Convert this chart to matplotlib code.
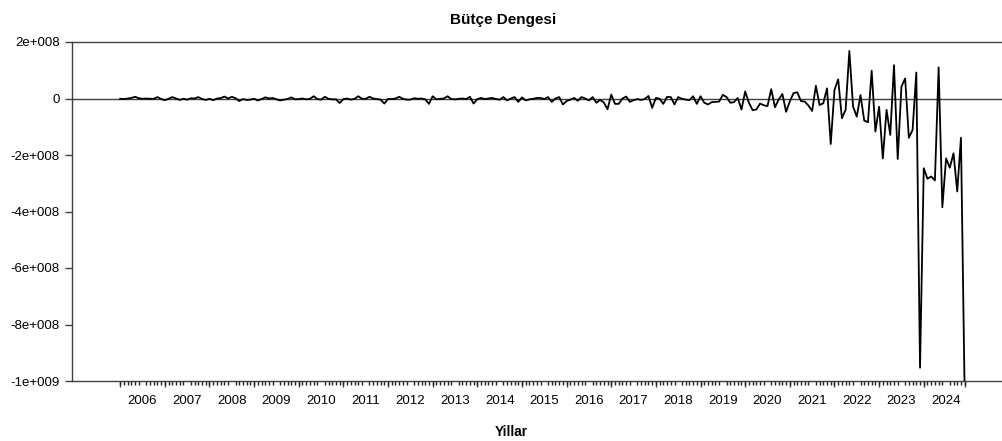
import matplotlib
matplotlib.use("Agg")
import matplotlib.pyplot as plt
import numpy as np
from matplotlib import font_manager

# ---- data (monthly budget balance, in millions) ----
years = list(range(2006, 2025))
bal_2006 = [-1, -2, 0, 2, 6, 1, -1, 0, -1, -1, 5, -2]
bal_2007 = [-6, -1, 5, 0, -5, -1, -4, 1, 0, 5, -2, -5]
bal_2008 = [-1, -6, 0, 1, 7, 0, 6, 1, -9, -2, -5, -4]
bal_2009 = [-1, -7, -2, 4, 0, 2, -3, -7, -4, -2, 4, -3]
bal_2010 = [-2, 0, -3, -1, 8, -2, -4, 6, -1, -3, -3, -16]
bal_2011 = [-2, 0, -4, -1, 8, -1, -1, 6, 0, -2, -4, -18]
bal_2012 = [-1, -2, 0, 6, -1, -4, -4, 1, -1, 0, -3, -19]
bal_2013 = [8, -3, -1, 0, 8, -2, -3, -1, 0, -2, 6, -18]
bal_2014 = [-2, 2, -2, 0, 2, -2, -4, 5, -7, 0, 5, -12]
bal_2015 = [4, -7, -3, -1, 2, 2, -2, 5, -12, 0, 5, -21]
bal_2016 = [-9, -4, 2, -8, 5, 0, -7, 5, -15, -5, -14, -38]
bal_2017 = [14, -19, -19, 0, 7, -12, -6, -2, -5, -2, 9, -33]
bal_2018 = [2, -1, -19, 6, 5, -21, 5, -1, -4, -6, 8, -19]
bal_2019 = [8, -15, -21, -13, -12, -11, 13, 5, -15, -13, 2, -39]
bal_2020 = [25, -15, -41, -39, -18, -24, -27, 33, -31, -4, 16, -47]
bal_2021 = [-10, 19, 22, -9, -11, -25, -44, 45, -23, -17, 36, -161]
bal_2022 = [30, 68, -70, -40, 168, -29, -64, 12, -78, -84, 98, -117]
bal_2023 = [-29, -212, -40, -129, 118, -214, 42, 71, -139, -111, 92, -953]
bal_2024 = [-247, -284, -276, -290, 110, -385, -212, -245, -194, -329, -139, -1050]

yticks = [2e8, 0, -2e8, -4e8, -6e8, -8e8, -1e9]
ytick_labels = ["2e+008", "0", "-2e+008", "-4e+008", "-6e+008", "-8e+008", "-1e+009"]
title = "Bütçe Dengesi"
xlabel = "Yillar"

series = [bal_2006, bal_2007, bal_2008, bal_2009, bal_2010, bal_2011, bal_2012,
          bal_2013, bal_2014, bal_2015, bal_2016, bal_2017, bal_2018, bal_2019,
          bal_2020, bal_2021, bal_2022, bal_2023, bal_2024]
values = np.concatenate([np.array(s, dtype=float) for s in series]) * 1e6
t = years[0] + np.arange(len(values)) / 12.0

# ---- fonts ----
names = {f.name for f in font_manager.fontManager.ttflist}
if "Liberation Sans Narrow" in names:
    fam = ["Liberation Sans Narrow", "DejaVu Sans"]
    tick_fs, title_fs, lab_fs = 11, 12, 11
else:
    fam = ["Liberation Sans", "DejaVu Sans"]
    tick_fs, title_fs, lab_fs = 9.5, 11, 9.8
plt.rcParams["font.family"] = fam

W, H = 1003, 441
fig = plt.figure(figsize=(W / 100, H / 100), dpi=100)
ax = fig.add_axes([72 / W, (H - 381) / H, (W - 72) / W + 0.01, (381 - 42) / H])

axc = "#404040"
ax.axhline(0, color=axc, lw=1.0, zorder=1)
ax.plot(t, values, color="black", lw=1.3, zorder=3)

ax.set_ylim(-1e9, 2e8)
ax.set_xlim(2004.92, 2026.0)

ax.set_yticks(yticks)
ax.set_yticklabels(ytick_labels, fontsize=tick_fs)
ax.tick_params(axis="y", direction="out", length=5, width=1.0, color=axc, pad=4)

# year labels at mid-year (no tick mark)
ax.set_xticks([y + 0.5 for y in years])
ax.set_xticklabels([str(y) for y in years], fontsize=tick_fs)
ax.tick_params(axis="x", which="major", length=0, pad=10)
# monthly minor ticks
months = years[0] + np.arange(len(values)) / 12.0
ax.set_xticks(months, minor=True)
ax.tick_params(axis="x", which="minor", direction="out", length=2.6, width=1.0, color="#222222")
# year-start ticks
sec = ax.secondary_xaxis(0)
sec.set_xticks(years + [years[-1] + 11 / 12])
sec.set_xticklabels([])
sec.tick_params(axis="x", direction="out", length=4.2, width=1.0, color=axc)
sec.spines["bottom"].set_visible(False)

for s in ["left", "top", "bottom"]:
    ax.spines[s].set_color(axc)
    ax.spines[s].set_linewidth(1.0)
ax.spines["right"].set_visible(False)

fig.text(503 / W, 1 - 20 / H, title, ha="center", va="center",
         fontsize=title_fs, fontweight="bold")
fig.text(511 / W, 1 - 432 / H, xlabel, ha="center", va="center",
         fontsize=lab_fs, fontweight="bold")

fig.savefig("out.png", dpi=100)
